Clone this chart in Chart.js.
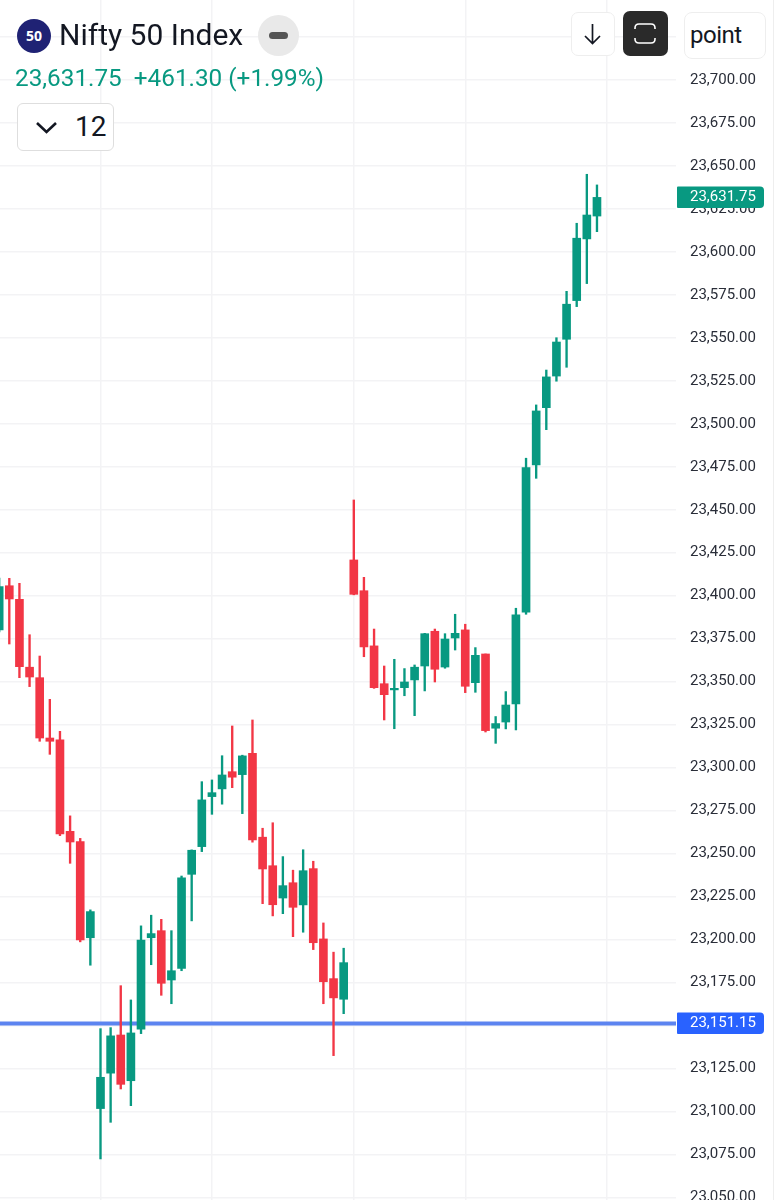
<!DOCTYPE html>
<html><head><meta charset="utf-8">
<script src="https://cdn.jsdelivr.net/npm/chart.js@4"></script>
<style>
html,body{margin:0;padding:0;background:#fff;width:774px;height:1200px;overflow:hidden;font-family:Roboto,sans-serif}
#wrap{position:relative;width:774px;height:1200px}
canvas{position:absolute;left:0;top:0}
.abs{position:absolute;box-sizing:border-box}
.t{white-space:nowrap;line-height:1}
</style></head><body>
<div id="wrap">
<canvas id="c" width="774" height="1200"></canvas>
<div class="abs" style="left:773px;top:0;width:1px;height:1200px;background:#eeeeee"></div>
<div class="abs t" style="left:17px;top:19px;width:34px;height:34px;border-radius:50%;background:#1f2274;color:#fff;font:700 14px/34px 'Open Sans',Roboto,sans-serif;text-align:center">50</div>
<div class="abs t" style="left:59px;top:20px;font-size:30px;color:#131722">Nifty 50 Index</div>
<div class="abs" style="left:258px;top:15px;width:41px;height:41px;border-radius:50%;background:#e9e9e9"></div>
<div class="abs" style="left:269px;top:32px;width:19px;height:7px;border-radius:4px;background:#555"></div>
<div class="abs t" style="left:15px;top:66px;font-size:24.3px;color:#089981">23,631.75<span style="margin-left:12px">+461.30 (+1.99%)</span></div>
<div class="abs" style="left:17px;top:103px;width:97px;height:48px;border:1.5px solid #dedede;border-radius:6px;background:#fff"></div>
<svg class="abs" style="left:34px;top:120px" width="26" height="16"><path d="M3 3 L12.5 12 L22 3" fill="none" stroke="#131722" stroke-width="2.6"/></svg>
<div class="abs t" style="left:75px;top:113px;font-size:28px;color:#131722">12</div>
<div class="abs" style="left:571px;top:12px;width:44px;height:44px;border:1.5px solid #eeeeee;border-radius:7px;background:#fff"></div>
<svg class="abs" style="left:581px;top:22px" width="24" height="24"><path d="M11.5 2 V21 M4 14 L11.5 21.5 L19 14" fill="none" stroke="#131722" stroke-width="1.7"/></svg>
<div class="abs" style="left:623px;top:11px;width:45px;height:45px;border-radius:7px;background:#2a2a2a"></div>
<svg class="abs" style="left:633px;top:22px" width="25" height="24"><path d="M2 7 V6 Q2 2 6 2 H18 Q22 2 22 6 V7 M2 16 V17 Q2 21 6 21 H18 Q22 21 22 17 V16" fill="none" stroke="#fff" stroke-width="1.6"/></svg>
<div class="abs" style="left:684px;top:12px;width:82px;height:47px;border:1.5px solid #eeeeee;border-radius:8px;background:#fff"></div>
<div class="abs t" style="left:690px;top:23px;font-size:24px;letter-spacing:-0.5px;color:#131722">point</div>
</div>
<script>
const firstIndex = -1;
const opens = [23380.1,23405.8,23397.9,23358.4,23352.3,23317.2,23316.2,23262.9,23256.9,23201,23101.6,23122.2,23144.4,23117.8,23147.8,23201,23205.1,23176.4,23183.2,23237.9,23254,23283.1,23287.6,23297.6,23295.9,23308.3,23259.5,23242.9,23224.1,23233,23220.1,23241.2,23200.3,23177.2,23165.2,23420.8,23402.9,23370.8,23348.8,23345.2,23346.5,23351,23359.1,23379.3,23358.5,23375.4,23380.1,23349.4,23366.1,23322.9,23326.5,23337,23390.4,23476.1,23509.4,23527.8,23549.2,23571.7,23607.6,23620.9];
const highs = [23410.3,23410.1,23407.2,23377.3,23364.9,23339.7,23321.1,23271.9,23258.8,23217.2,23148.1,23148.7,23173.1,23164.8,23207.9,23214.1,23211.7,23205.1,23236.9,23252.1,23291.8,23292.8,23306.9,23324.2,23307.2,23327.7,23264.7,23267.9,23248.2,23240.3,23252.2,23245.5,23209.6,23192.6,23194.9,23455.7,23410.7,23380.6,23359.1,23363,23357.6,23359.7,23378.1,23380.6,23377.9,23389.2,23383.4,23369.8,23366.1,23329.7,23344.2,23392.7,23480,23511,23531.3,23550.1,23577.1,23616.7,23645.2,23639];
const lows = [23378.9,23371.9,23352.3,23347.1,23315.3,23307.7,23260.4,23244.3,23198.6,23185,23072.3,23093.6,23113,23103.3,23145.2,23185.3,23167.5,23162.6,23181.8,23210.8,23251.1,23272.8,23278.7,23288.3,23273.2,23256.6,23220.8,23213.7,23215,23201.6,23204.2,23194.1,23162.6,23132.4,23156.8,23400.5,23364.5,23346.1,23327.7,23322.6,23341.8,23330.2,23344.6,23349.8,23357.8,23368.4,23343.6,23343.8,23320.7,23314.1,23322.5,23321.9,23389.2,23468.3,23496.6,23524.8,23532.9,23568.2,23581.6,23611.8];
const closes = [23405.3,23398.1,23358.7,23352.7,23317.2,23315.3,23261.4,23256.7,23199.7,23216.2,23119.8,23143.9,23115.7,23145.6,23199.7,23203.4,23174.5,23181.8,23235.8,23251.9,23281.2,23285.4,23295.7,23294.4,23306.8,23257.9,23241,23220.2,23231.3,23218.7,23240,23198.1,23175.4,23166,23186.5,23400.8,23370.2,23346.5,23342.4,23346.1,23349.8,23358.4,23377.9,23357.2,23374.8,23378.1,23347.3,23365.3,23321.5,23325.6,23336.4,23388.8,23474.5,23507.5,23527.3,23547.6,23569.6,23608,23621.5,23631.75];
const priceTicks = [23725,23700,23675,23650,23625,23600,23575,23550,23525,23500,23475,23450,23425,23400,23375,23350,23325,23300,23275,23250,23225,23200,23175,23150,23125,23100,23075,23050];
const hiddenTickLabels = [23725];
const gridIndices = [9,20,34,45,59];
const lastPrice = 23631.75;
const linePrice = 23151.15;
const GREEN = '#089981', RED = '#f23645', BLUE = '#2962ff', LINEBLUE = '#5c84f0';
const xMin = -0.918, xMax = 65.8;
const fmt = v => v.toLocaleString('en-US',{minimumFractionDigits:2,maximumFractionDigits:2});
const colors = opens.map((o,i)=> closes[i]>=o ? GREEN : RED);
const noPad = a => { a.paddingTop=0; a.paddingBottom=0; a.paddingLeft=0; a.paddingRight=0; };
const tagPlugin = {
  id:'tags',
  afterDraw(chart){
    const ctx = chart.ctx, y = chart.scales.y;
    [[lastPrice,GREEN],[linePrice,BLUE]].forEach(([p,col])=>{
      const cy = y.getPixelForValue(p);
      ctx.save();
      ctx.fillStyle = col;
      ctx.beginPath();
      ctx.roundRect(677,Math.round(cy)-10.5,87,21.5,[1,4,4,1]);
      ctx.fill();
      ctx.fillStyle='#fff';
      ctx.font = "15px Roboto";
      ctx.textBaseline='middle';
      ctx.textAlign='left';
      ctx.fillText(fmt(p),690,cy);
      ctx.restore();
    });
  }
};
new Chart(document.getElementById('c'),{
  type:'bar',
  data:{datasets:[
    {type:'line',order:3,data:[{x:xMin,y:linePrice},{x:xMax,y:linePrice}],borderColor:LINEBLUE,borderWidth:4,pointRadius:0,tension:0},
    {order:2,grouped:false,barThickness:1.7,data:opens.map((o,i)=>({x:i+firstIndex,y:[lows[i],highs[i]]})),backgroundColor:colors,borderWidth:0},
    {order:1,grouped:false,barThickness:8,data:opens.map((o,i)=>({x:i+firstIndex,y:[o,closes[i]]})),backgroundColor:colors,borderWidth:0}
  ]},
  options:{
    responsive:false,animation:false,devicePixelRatio:1,
    layout:{padding:0},
    plugins:{legend:{display:false},tooltip:{enabled:false},title:{display:false}},
    scales:{
      x:{type:'linear',min:xMin,max:xMax,offset:false,
        grid:{offset:false,color:'#f3f3f5',lineWidth:1.5,drawTicks:false},
        border:{display:false},
        ticks:{display:false},
        afterBuildTicks(a){a.ticks=gridIndices.map(v=>({value:v}));},
        afterFit(a){noPad(a);a.height=0;}
      },
      y:{type:'linear',position:'right',min:23048.4,max:23746.6,beginAtZero:false,
        grid:{color:'#f3f3f5',lineWidth:1.5,drawTicks:false},
        border:{display:false},
        ticks:{padding:14,align:'center',crossAlign:'near',color:'#2a2e39',autoSkip:false,font:{family:'Roboto',size:15},
          callback:v=>hiddenTickLabels.includes(v)?'':fmt(v)},
        afterBuildTicks(a){a.ticks=priceTicks.map(v=>({value:v}));},
        afterFit(a){noPad(a);a.width=98;}
      }
    }
  },
  plugins:[tagPlugin]
});
</script>
</body></html>
